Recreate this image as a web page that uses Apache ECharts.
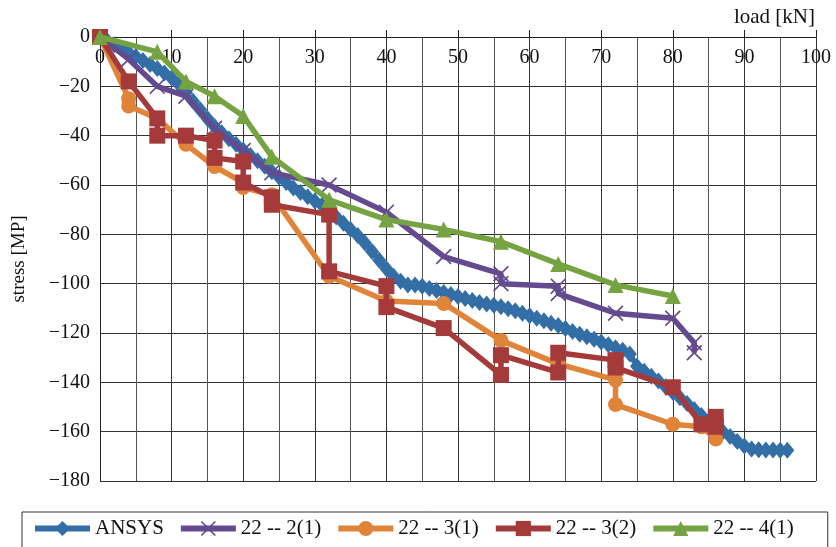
<!DOCTYPE html>
<html>
<head>
<meta charset="utf-8">
<script src="https://cdn.jsdelivr.net/npm/echarts@6/dist/echarts.min.js"></script>
<style>
  html, body { margin: 0; padding: 0; background: #fff; }
  #chart { width: 836px; height: 547px; }
</style>
</head>
<body>
<div id="chart"></div>
<script>
// Load (kN) vs stress (MP): FE model and four strain-gauge readings
const seriesNames = ['ANSYS', '22 -- 2(1)', '22 -- 3(1)', '22 -- 3(2)', '22 -- 4(1)'];

const ansysLoad = [0,1,2,3,4,5,6,7,8,9,10,11,12,13,14,15,16,17,18,19,20,21,22,23,24,25,26,27,28,29,30,31,32,33,34,35,36,37,38,39,40,41,42,43,44,45,46,47,48,49,50,51,52,53,54,55,56,57,58,59,60,61,62,63,64,65,66,67,68,69,70,71,72,73,74,75,76,77,78,79,80,81,82,83,84,85,86,87,88,89,90,91,92,93,94,95,96];
const ansysStress = [0,-1.5,-3.1,-4.7,-6.3,-7.9,-9.5,-11.1,-12.8,-14.6,-16.6,-19.2,-22.5,-26,-29.5,-33,-36.3,-38.8,-41.2,-43.5,-45.8,-48,-50.2,-52.4,-54.6,-56.8,-59,-61.2,-63,-64.8,-66.5,-68.2,-70.5,-73,-75.5,-78,-80.5,-83.5,-87,-90.5,-94,-97,-99,-100.5,-100.5,-101,-102,-102.8,-103.6,-104.4,-105.2,-106,-106.8,-107.6,-108.2,-108.8,-109.4,-110.2,-111,-112,-113,-114,-115,-116,-117,-118.2,-119.4,-120.5,-121.5,-122.5,-123.6,-124.8,-126,-127,-128.5,-133.5,-135.5,-137.5,-139.5,-141.8,-144,-146.3,-148.6,-151,-153.4,-155.7,-158,-160,-162,-164,-165.8,-167,-167.3,-167.4,-167.4,-167.5,-167.5];

const g21Load = [0,4,8,12,16,20,24,32,40,48,56,56,64,64,72,80,83,83];
const g21Stress = [0,-9,-20,-24,-37,-46,-55,-60,-71,-89,-96,-100,-101,-104,-112,-114,-124,-128];

const g31Load = [0,4,4,8,12,16,20,20,24,32,40,48,56,64,72,72,80,84,86];
const g31Stress = [0,-25,-28,-33,-43.5,-52.5,-59,-61,-64,-97,-107,-108,-123,-132.5,-139,-149,-157,-158,-163];

const g32Load = [0,4,8,8,12,16,16,20,20,24,24,32,32,40,40,48,56,56,64,64,72,72,80,84,86,86];
const g32Stress = [0,-18,-33,-40,-40,-42,-49,-50.5,-59,-65,-68,-72,-95,-101,-109.5,-118,-137,-129,-136,-128,-131,-134,-142,-157,-154,-158];

const g41Load = [0,8,12,16,20,24,32,40,48,56,64,72,80];
const g41Stress = [0,-6,-18,-24,-32,-48.5,-66,-74,-78,-83,-92,-100.5,-105];

const xTicks = { min: 0, max: 100, step: 10 };
const yTicks = { min: -180, max: 0, step: 20 };

const colors = ['#336ea6', '#644a8f', '#e0843a', '#a53a3a', '#76a342'];
const crossPath = 'path://M0,1.5 L1.5,0 L10,8.5 L18.5,0 L20,1.5 L11.5,10 L20,18.5 L18.5,20 L10,11.5 L1.5,20 L0,18.5 L8.5,10 Z';
const symbols = ['diamond', crossPath, 'circle', 'rect', 'triangle'];
const symbolSizes = [[14, 17], 16, 15, 16, 16];

function pairs(xs, ys) { return xs.map((x, i) => [x, ys[i]]); }
const seriesData = [
  pairs(ansysLoad, ansysStress),
  pairs(g21Load, g21Stress),
  pairs(g31Load, g31Stress),
  pairs(g32Load, g32Stress),
  pairs(g41Load, g41Stress)
];

const fontFamily = 'Liberation Serif';
const minusFmt = v => (v < 0 ? '\u2212' + Math.abs(v) : String(v));

const chart = echarts.init(document.getElementById('chart'), null, { renderer: 'canvas' });
chart.setOption({
  animation: false,
  color: colors,
  textStyle: { fontFamily: fontFamily, color: '#111' },
  title: {
    text: 'load [kN]',
    right: 16,
    top: 2,
    textStyle: { fontFamily: fontFamily, fontSize: 21, fontWeight: 'normal', color: '#111' }
  },
  grid: { left: 100, right: 20, top: 37, bottom: 66, containLabel: false },
  xAxis: {
    type: 'value',
    position: 'top',
    min: xTicks.min, max: xTicks.max, interval: xTicks.step,
    axisLine: { show: true, onZero: false, lineStyle: { color: '#222', width: 1 } },
    axisTick: { show: true, inside: false, length: 7, lineStyle: { color: '#222' } },
    axisLabel: { inside: true, margin: 11, fontSize: 20, color: '#111', fontFamily: fontFamily, formatter: minusFmt },
    splitLine: { show: true, lineStyle: { color: '#333', width: 1 } },
    minorTick: { show: false, splitNumber: 2 },
    minorSplitLine: { show: true, lineStyle: { color: '#555', width: 1 } }
  },
  yAxis: {
    type: 'value',
    min: yTicks.min, max: yTicks.max, interval: yTicks.step,
    name: 'stress [MP]',
    nameLocation: 'middle',
    nameGap: 71,
    nameRotate: 90,
    nameTextStyle: { fontFamily: fontFamily, fontSize: 19, color: '#111' },
    axisLine: { show: true, onZero: false, lineStyle: { color: '#222', width: 1 } },
    axisTick: { show: false },
    axisLabel: { margin: 10, fontSize: 20, color: '#111', fontFamily: fontFamily, formatter: minusFmt },
    splitLine: { show: true, lineStyle: { color: '#333', width: 1 } }
  },
  legend: {
    left: 22,
    top: 512,
    width: 800,
    orient: 'horizontal',
    itemWidth: 55,
    itemHeight: 19,
    itemGap: 14,
    padding: [6, 34, 30, 10],
    borderColor: '#333',
    borderWidth: 1,
    lineStyle: { width: 6 },
    textStyle: { fontFamily: fontFamily, fontSize: 21, color: '#111' },
    data: seriesNames
  },
  series: seriesNames.map((name, i) => ({
    name: name,
    type: 'line',
    data: seriesData[i],
    symbol: symbols[i],
    symbolSize: symbolSizes[i],
    showSymbol: true,
    lineStyle: { width: 5.5, color: colors[i] },
    itemStyle: { color: colors[i] },
    z: 2 + i,
    clip: false
  }))
});
</script>
</body>
</html>
